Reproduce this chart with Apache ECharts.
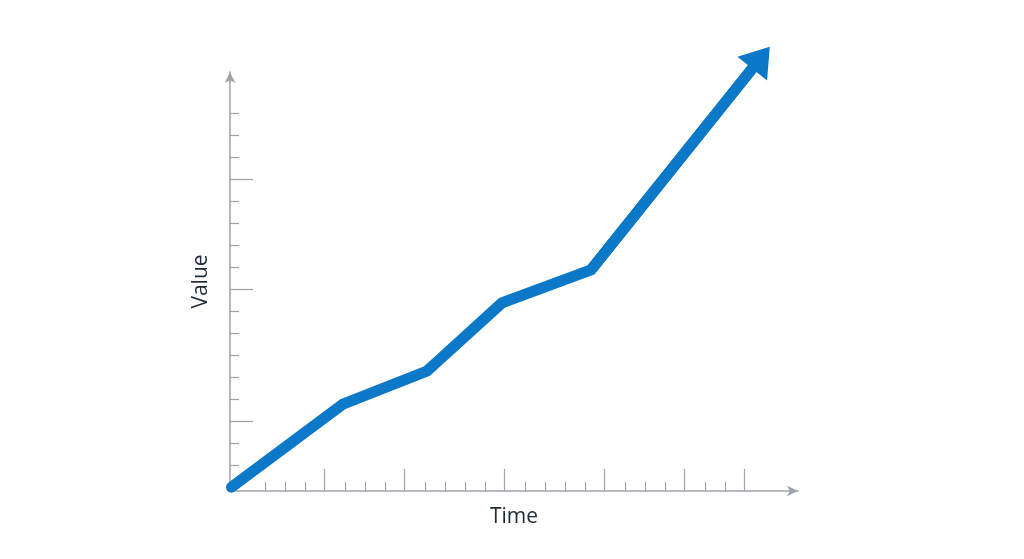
<!DOCTYPE html>
<html>
<head>
<meta charset="utf-8">
<script src="https://cdn.jsdelivr.net/npm/echarts@6/dist/echarts.min.js"></script>
<style>
  html, body { margin: 0; padding: 0; background: #ffffff; }
  #chart { width: 1024px; height: 559px; }
</style>
</head>
<body>
<div id="chart"></div>
<script>
// line vertices (time, value)
const timeVals = [0.15, 11.3, 19.7, 27.2, 36.1, 53.1];
const valueVals = [0.35, 7.9, 10.9, 17.1, 20.1, 39.4];

// tick positions on the two axes
const xMajorTicks = [9.45, 17.45, 27.4, 37.4, 45.4, 51.4];
const xMinorTicks = [3.5, 5.5, 7.5, 11.5, 13.5, 15.5, 19.5, 21.5, 23.5, 25.5,
  29.5, 31.5, 33.5, 35.5, 39.5, 41.5, 43.5, 47.5, 49.5];
const yMajorTicks = [6.35, 18.35, 28.35];
const yMinorTicks = [2.35, 4.35, 8.35, 10.35, 12.35, 14.35, 16.35, 20.35, 22.35,
  24.35, 26.35, 30.35, 32.35, 34.35];

const axisColor = '#9ea2a9';
const lineColor = '#0c78c8';
const gridLeft = 230;
const gridRight = 226;
const xMax = (1024 - gridRight - gridLeft) / 10;
const gridTop = 72;
const axisY = 491;
const yMax = (axisY - gridTop) / 11;

const chart = echarts.init(document.getElementById('chart'));

const nameStyle = {
  fontFamily: 'Open Sans',
  fontSize: 21,
  color: '#1f2a37',
};

const option = {
  animation: false,
  backgroundColor: '#ffffff',
  grid: [
    { left: gridLeft, right: gridRight, top: gridTop, bottom: 68 },
    { left: gridLeft, right: gridRight, top: 29, bottom: 68 },
  ],
  xAxis: [
    {
      gridIndex: 0,
      type: 'value',
      position: 'bottom',
      min: 0,
      max: xMax,
      name: 'Time',
      nameLocation: 'middle',
      nameGap: 16,
      nameTextStyle: nameStyle,
      axisLine: {
        show: true,
        symbol: ['none', 'arrow'],
        symbolSize: [8, 11],
        lineStyle: { color: axisColor, width: 1.5 },
      },
      axisTick: {
        show: true,
        inside: true,
        length: 22,
        customValues: xMajorTicks,
        lineStyle: { color: axisColor, width: 1.2 },
      },
      axisLabel: { show: false },
      splitLine: { show: false },
    },
    {
      gridIndex: 0,
      type: 'value',
      position: 'bottom',
      min: 0,
      max: xMax,
      axisLine: { show: false },
      axisTick: {
        show: true,
        inside: true,
        length: 9,
        customValues: xMinorTicks,
        lineStyle: { color: axisColor, width: 1.2 },
      },
      axisLabel: { show: false },
      splitLine: { show: false },
    },
    {
      gridIndex: 1,
      type: 'value',
      min: 0,
      max: xMax,
      show: false,
    },
  ],
  yAxis: [
    {
      gridIndex: 0,
      type: 'value',
      position: 'left',
      min: 0,
      max: yMax,
      name: 'Value',
      nameLocation: 'middle',
      nameRotate: 90,
      nameGap: 18,
      nameTextStyle: nameStyle,
      axisLine: {
        show: true,
        symbol: ['none', 'arrow'],
        symbolSize: [8, 11],
        lineStyle: { color: axisColor, width: 1.5 },
      },
      axisTick: {
        show: true,
        inside: true,
        length: 23,
        customValues: yMajorTicks,
        lineStyle: { color: axisColor, width: 1.2 },
      },
      axisLabel: { show: false },
      splitLine: { show: false },
    },
    {
      gridIndex: 0,
      type: 'value',
      position: 'left',
      min: 0,
      max: yMax,
      axisLine: { show: false },
      axisTick: {
        show: true,
        inside: true,
        length: 9,
        customValues: yMinorTicks,
        lineStyle: { color: axisColor, width: 1.2 },
      },
      axisLabel: { show: false },
      splitLine: { show: false },
    },
    {
      gridIndex: 1,
      type: 'value',
      min: 0,
      max: 42,
      show: false,
    },
  ],
  series: [
    {
      type: 'line',
      xAxisIndex: 2,
      yAxisIndex: 2,
      data: timeVals.map((t, i) => [t, valueVals[i]]),
      symbol: 'none',
      clip: false,
      silent: true,
      lineStyle: { color: lineColor, width: 11, cap: 'round', join: 'miter' },
      markLine: {
        silent: true,
        symbol: ['none', 'triangle'],
        symbolSize: [38, 28],
        label: { show: false },
        lineStyle: { color: lineColor, width: 11, type: 'solid' },
        emphasis: { disabled: true },
        data: [[
          { coord: [timeVals[4], valueVals[4]] },
          { coord: [timeVals[5], valueVals[5]] },
        ]],
      },
    },
  ],
};

chart.setOption(option);
</script>
</body>
</html>
